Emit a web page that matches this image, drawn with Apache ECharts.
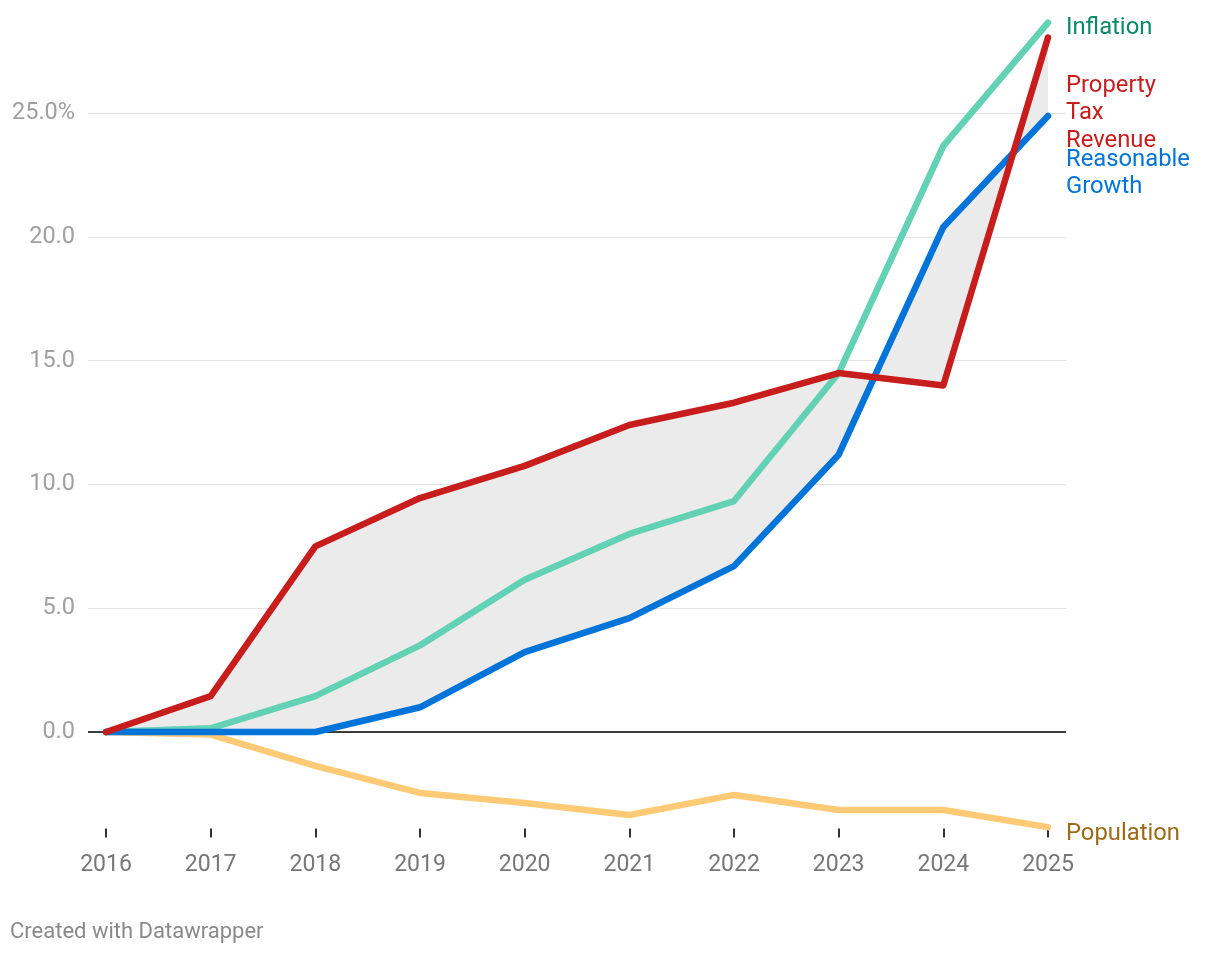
<!DOCTYPE html>
<html>
<head>
<meta charset="utf-8">
<script src="https://cdn.jsdelivr.net/npm/echarts@6/dist/echarts.min.js"></script>
<style>
html,body{margin:0;padding:0;background:#fff;}
#chart{width:1220px;height:954px;}
</style>
</head>
<body>
<div id="chart"></div>
<script>
const years = [2016, 2017, 2018, 2019, 2020, 2021, 2022, 2023, 2024, 2025];
const propertyTax = [0, 1.45, 7.5, 9.45, 10.75, 12.4, 13.3, 14.5, 14.0, 28.05];
const inflation = [0, 0.15, 1.45, 3.5, 6.15, 8.0, 9.33, 14.5, 23.67, 28.65];
const reasonable = [0, 0, 0, 1.0, 3.23, 4.6, 6.7, 11.2, 20.4, 24.88];
const population = [0, -0.1, -1.37, -2.46, -2.87, -3.35, -2.54, -3.15, -3.15, -3.84];
const yTicks = [0, 5, 10, 15, 20, 25];

const pairs = arr => years.map((y, i) => [y, arr[i]]);
const FONT = 'Roboto, "Noto Sans", sans-serif';

function lineSeries(name, arr, color, labelText, labelColor, dy, z) {
  return {
    name: name,
    type: 'line',
    data: pairs(arr),
    symbol: 'none',
    z: z,
    lineStyle: { color: color, width: 6.5, cap: 'round', join: 'round' },
    endLabel: {
      show: true,
      formatter: labelText,
      color: labelColor,
      fontFamily: FONT,
      fontSize: 23.8,
      lineHeight: 27.5,
      distance: 18,
      offset: [0, dy]
    }
  };
}

const chart = echarts.init(document.getElementById('chart'), null, { renderer: 'canvas' });
chart.setOption({
  animation: false,
  backgroundColor: '#ffffff',
  textStyle: { fontFamily: FONT },
  title: {
    text: 'Created with Datawrapper',
    left: 10,
    top: 921,
    padding: 0,
    textStyle: { fontSize: 22, fontWeight: 'normal', color: '#8a8a8a', fontFamily: FONT }
  },
  grid: { left: 88, right: 154, top: 14, bottom: 125.4, containLabel: false },
  xAxis: {
    type: 'value',
    min: 2016 - 18 / 104.67,
    max: 2025 + 18 / 104.67,
    axisLine: { show: false, onZero: false },
    splitLine: { show: false },
    axisTick: { show: true, length: 9, customValues: years, lineStyle: { color: '#333', width: 2 } },
    axisLabel: {
      customValues: years,
      formatter: v => String(v),
      color: '#777',
      fontSize: 23,
      margin: 25,
      fontFamily: FONT
    }
  },
  yAxis: {
    type: 'value',
    min: -3.9,
    max: 29,
    axisLine: { show: false },
    axisTick: { show: false, customValues: yTicks },
    splitLine: { show: true, lineStyle: { color: '#e3e3e3', width: 1 } },
    axisLabel: {
      customValues: yTicks,
      formatter: v => v === 25 ? '25.0%' : v.toFixed(1),
      color: '#a0a0a0',
      fontSize: 23.5,
      margin: 13,
      padding: [5, 0, 0, 0],
      fontFamily: FONT
    }
  },
  series: [
    {
      type: 'custom',
      coordinateSystem: 'cartesian2d',
      data: [[2016, 0]],
      z: 1,
      silent: true,
      renderItem: function (params, api) {
        const pts = [];
        years.forEach((y, i) => pts.push(api.coord([y, propertyTax[i]])));
        for (let i = years.length - 1; i >= 0; i--) pts.push(api.coord([years[i], reasonable[i]]));
        return {
          type: 'polygon',
          shape: { points: pts },
          style: { fill: '#ebebeb', stroke: null }
        };
      }
    },
    {
      type: 'line',
      data: [],
      silent: true,
      z: 2,
      markLine: {
        silent: true,
        symbol: 'none',
        label: { show: false },
        lineStyle: { color: '#000', width: 1.5, type: 'solid' },
        data: [{ yAxis: 0 }]
      }
    },
    lineSeries('Population', population, '#ffca76', 'Population', '#9c6b18', 7, 3),
    lineSeries('Inflation', inflation, '#63d1b4', 'Inflation', '#0a8a6a', 5, 4),
    lineSeries('Reasonable Growth', reasonable, '#0074d9', 'Reasonable\nGrowth', '#0074d9', 57.5, 5),
    lineSeries('Property Tax Revenue', propertyTax, '#c71e1d', 'Property\nTax\nRevenue', '#c71e1d', 76, 6)
  ]
});
</script>
</body>
</html>
